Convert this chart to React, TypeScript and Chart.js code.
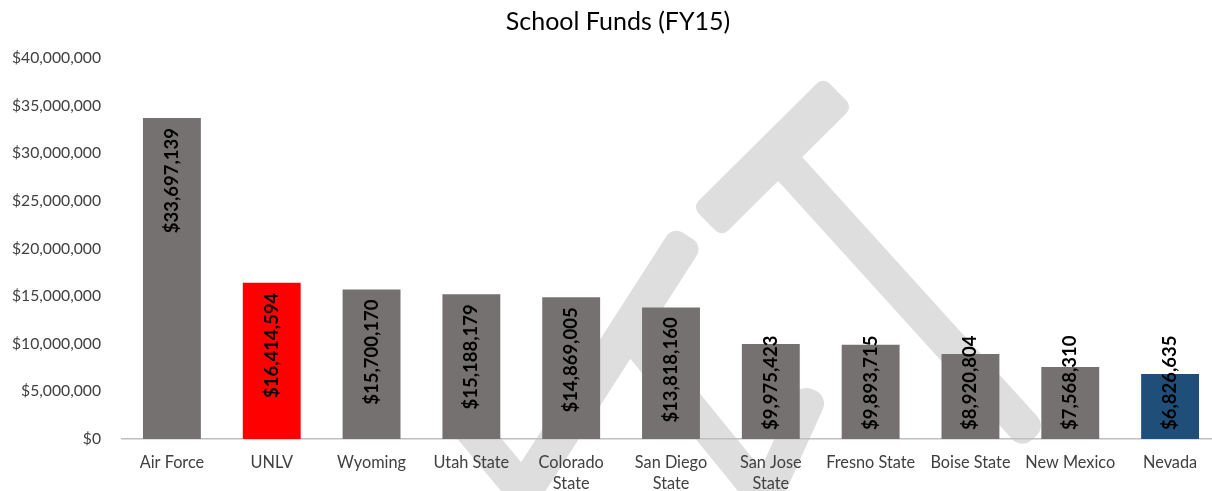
import React, { useEffect, useRef } from "react";
import { Chart, registerables } from "chart.js";

Chart.register(...registerables);

const chartTitle = "School Funds (FY15)";

const categories: (string | string[])[] = [
  "Air Force",
  "UNLV",
  "Wyoming",
  "Utah State",
  ["Colorado", "State"],
  ["San Diego", "State"],
  ["San Jose", "State"],
  "Fresno State",
  "Boise State",
  "New Mexico",
  "Nevada",
];

const funds: number[] = [
  33697139, 16414594, 15700170, 15188179, 14869005, 13818160, 9975423, 9893715,
  8920804, 7568310, 6826635,
];

const barColors: string[] = [
  "#767171", "#ff0000", "#767171", "#767171", "#767171", "#767171",
  "#767171", "#767171", "#767171", "#767171", "#1f4e79",
];

const yTicks = { min: 0, max: 40000000, step: 5000000 };

const FONT = "Lato, 'Open Sans', sans-serif";

const fmt = (v: number) => "$" + Math.round(v).toLocaleString("en-US");

// decorative background watermark strokes (not data): x1, y1, x2, y2, width, cornerRadius
const watermark: [number, number, number, number, number, number][] = [
  [838, 92, 707, 222, 42, 9],
  [782, 160, 1034, 438, 34, 14],
  [688, 236, 515, 505, 36, 12],
  [630, 333, 770, 505, 32, 6],
  [814, 390, 762, 505, 32, 14],
  [462, 418, 535, 505, 34, 8],
];

const watermarkPlugin = {
  id: "watermark",
  beforeDraw(chart: any) {
    const ctx = chart.ctx;
    ctx.save();
    ctx.fillStyle = "#dedede";
    for (const [x1, y1, x2, y2, w, r] of watermark) {
      const len = Math.hypot(x2 - x1, y2 - y1);
      const ang = Math.atan2(y2 - y1, x2 - x1);
      ctx.save();
      ctx.translate(x1, y1);
      ctx.rotate(ang);
      ctx.beginPath();
      ctx.roundRect(0, -w / 2, len, w, r);
      ctx.fill();
      ctx.restore();
    }
    ctx.restore();
  },
};

const titlePlugin = {
  id: "centeredTitle",
  afterDraw(chart: any) {
    const ctx = chart.ctx;
    ctx.save();
    ctx.font = `25px ${FONT}`;
    ctx.fillStyle = "#000000";
    ctx.textAlign = "center";
    ctx.textBaseline = "middle";
    ctx.fillText(chartTitle, 618, 22);
    ctx.restore();
  },
};

const labelPlugin = {
  id: "barLabels",
  afterDatasetsDraw(chart: any) {
    const ctx = chart.ctx;
    const meta = chart.getDatasetMeta(0);
    const axisY = chart.chartArea.bottom;
    ctx.save();
    ctx.font = `bold 18.5px ${FONT}`;
    ctx.fillStyle = "#000000";
    ctx.textBaseline = "middle";
    ctx.textAlign = "left";
    meta.data.forEach((bar: any, i: number) => {
      const text = fmt(funds[i]);
      const len = ctx.measureText(text).width;
      const top = bar.y + 10;
      let bottom = top + len;
      if (bottom > axisY - 9) bottom = axisY - 9;
      ctx.save();
      ctx.translate(bar.x, bottom);
      ctx.rotate(-Math.PI / 2);
      ctx.fillText(text, 0, 0);
      ctx.restore();
    });
    ctx.restore();
  },
};

export default function App() {
  const ref = useRef<HTMLCanvasElement | null>(null);
  useEffect(() => {
    if (!ref.current) return;
    const chart = new Chart(ref.current, {
      type: "bar",
      data: {
        labels: categories,
        datasets: [
          {
            data: funds,
            backgroundColor: barColors,
            borderWidth: 0,
            barPercentage: 0.58,
            categoryPercentage: 1,
          },
        ],
      },
      plugins: [watermarkPlugin, labelPlugin, titlePlugin],
      options: {
        responsive: false,
        animation: false,
        devicePixelRatio: 1,
        layout: { padding: { left: 0, right: 20, top: 58, bottom: 0 } },
        plugins: {
          legend: { display: false },
          tooltip: { enabled: false },
          title: { display: false },
        },
        scales: {
          x: {
            grid: { display: false, drawTicks: false },
            border: { display: true, color: "#bfbfbf", width: 1.5 },
            ticks: {
              color: "#404040",
              font: { family: FONT, size: 16.3, lineHeight: 1.3 },
              padding: 13,
              maxRotation: 0,
              autoSkip: false,
            },
            afterFit(scale: any) {
              scale.height = 52;
            },
          },
          y: {
            min: yTicks.min,
            max: yTicks.max,
            grid: { display: false, drawTicks: false },
            border: { display: false },
            ticks: {
              stepSize: yTicks.step,
              color: "#404040",
              font: { family: FONT, size: 15.7 },
              padding: 21,
              callback: (v: any) => fmt(Number(v)),
            },
            afterFit(scale: any) {
              scale.width = 122;
            },
          },
        },
      },
    });
    return () => chart.destroy();
  }, []);
  return (
    <div
      style={{
        position: "fixed",
        left: 0,
        top: 0,
        width: 1212,
        height: 491,
        overflow: "hidden",
        background: "#ffffff",
      }}
    >
      <canvas ref={ref} width={1240} height={491} style={{ display: "block" }} />
    </div>
  );
}
